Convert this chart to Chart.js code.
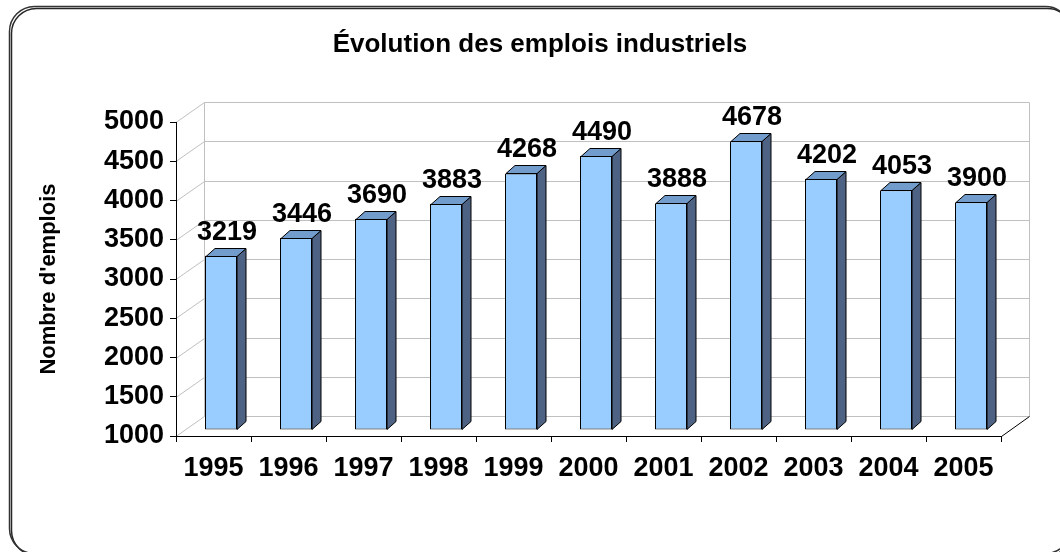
<!DOCTYPE html>
<html>
<head>
<meta charset="utf-8">
<script src="https://cdn.jsdelivr.net/npm/chart.js@4.4.0/dist/chart.umd.min.js"></script>
<style>
  html, body { margin: 0; padding: 0; background: #fff; overflow: hidden; }
  #wrap { width: 1060px; height: 552px; }
  #myChart { display: block; }
</style>
</head>
<body>
<div id="wrap"><canvas id="myChart" width="1060" height="552"></canvas></div>
<script>
// data
var years = ['1995', '1996', '1997', '1998', '1999', '2000', '2001', '2002', '2003', '2004', '2005'];
var emplois = [3219, 3446, 3690, 3883, 4268, 4490, 3888, 4678, 4202, 4053, 3900];
var yTicks = [1000, 1500, 2000, 2500, 3000, 3500, 4000, 4500, 5000];
var chartTitle = 'Évolution des emplois industriels';
var axisTitle = "Nombre d'emplois";

var fontFam = '"Liberation Sans", Arial, sans-serif';

// 3d look, pixel offsets
var wallDX = 27.5, wallDY = -20;
var barShiftX = 7.5, barShiftY = -6;
var barDX = 9, barDY = -8;

function px(v) { return Math.round(v) + 0.5; }

function line(ctx, x1, y1, x2, y2) {
  ctx.beginPath();
  ctx.moveTo(x1, y1);
  ctx.lineTo(x2, y2);
  ctx.stroke();
}

var fake3d = {
  id: 'fake3d',
  beforeDraw: function(chart) {
    var ctx = chart.ctx;
    var a = chart.chartArea;
    var ys = chart.scales.y;

    ctx.save();
    ctx.fillStyle = '#fff';
    ctx.fillRect(0, 0, chart.width, chart.height);

    // rounded frame, right and bottom sides run off the picture
    ctx.shadowColor = 'rgba(0,0,0,0.85)';
    ctx.shadowOffsetX = 2;
    ctx.shadowOffsetY = 2;
    ctx.beginPath();
    ctx.roundRect(9.5, 6.5, 1061, 547, 25);
    ctx.lineWidth = 1.5;
    ctx.strokeStyle = '#333';
    ctx.stroke();
    ctx.restore();

    // title
    ctx.save();
    ctx.fillStyle = '#000';
    ctx.font = 'bold 26px ' + fontFam;
    ctx.textAlign = 'center';
    ctx.textBaseline = 'middle';
    ctx.fillText(chartTitle, 540, 45);
    ctx.restore();

    // walls and grid
    ctx.save();
    ctx.lineWidth = 1;
    ctx.strokeStyle = '#c0c0c0';
    var backL = px(a.left + wallDX), backR = px(a.right + wallDX);
    yTicks.forEach(function(v) {
      var py = ys.getPixelForValue(v);
      line(ctx, a.left, px(py), backL, px(py + wallDY));
      line(ctx, backL, px(py + wallDY), backR, px(py + wallDY));
    });
    var yTop = px(ys.getPixelForValue(yTicks[yTicks.length - 1]) + wallDY);
    var yBot = px(ys.getPixelForValue(yTicks[0]) + wallDY);
    line(ctx, backL, yTop, backL, yBot);
    line(ctx, backR, yTop, backR, yBot);
    ctx.strokeStyle = '#000';
    line(ctx, px(a.right), px(a.bottom), backR, yBot);
    ctx.restore();
  },
  beforeDatasetsDraw: function(chart) {
    chart.ctx.save();
    chart.ctx.translate(barShiftX, barShiftY);
  },
  afterDatasetsDraw: function(chart) {
    var ctx = chart.ctx;
    var meta = chart.getDatasetMeta(0);
    ctx.lineWidth = 1;
    ctx.strokeStyle = '#000';
    ctx.lineJoin = 'miter';
    meta.data.forEach(function(bar, i) {
      var p = bar.getProps(['x', 'y', 'base', 'width'], true);
      var l = Math.round(p.x - p.width / 2) + 0.5;
      var r = Math.round(p.x + p.width / 2) - 0.5;
      var t = Math.round(p.y) + 0.5;
      var b = Math.round(p.base) - 0.5;
      // side
      ctx.beginPath();
      ctx.moveTo(r, t);
      ctx.lineTo(r + barDX, t + barDY);
      ctx.lineTo(r + barDX, b + barDY);
      ctx.lineTo(r, b);
      ctx.closePath();
      ctx.fillStyle = '#4e6384';
      ctx.fill();
      ctx.stroke();
      // top
      ctx.beginPath();
      ctx.moveTo(l, t);
      ctx.lineTo(l + barDX, t + barDY);
      ctx.lineTo(r + barDX, t + barDY);
      ctx.lineTo(r, t);
      ctx.closePath();
      ctx.fillStyle = '#729ccc';
      ctx.fill();
      ctx.stroke();
      // value
      ctx.fillStyle = '#000';
      ctx.font = 'bold 27px ' + fontFam;
      ctx.textAlign = 'center';
      ctx.textBaseline = 'alphabetic';
      ctx.fillText(String(emplois[i]), p.x + 6, p.y - 16);
    });
    ctx.restore();
  }
};

var ctx = document.getElementById('myChart').getContext('2d');
new Chart(ctx, {
  type: 'bar',
  data: {
    labels: years,
    datasets: [{
      label: axisTitle,
      data: emplois,
      base: yTicks[0],
      backgroundColor: '#99ccff',
      borderColor: '#000',
      borderWidth: 1,
      borderSkipped: false,
      barPercentage: 32 / 75,
      categoryPercentage: 1
    }]
  },
  options: {
    responsive: false,
    animation: false,
    devicePixelRatio: 1,
    layout: { padding: { top: 122, left: 30, right: 59, bottom: 0 } },
    plugins: {
      legend: { display: false },
      title: { display: false },
      tooltip: { enabled: false }
    },
    scales: {
      x: {
        afterFit: function(scale) { scale.height = 552 - 436; },
        grid: { drawOnChartArea: false, color: '#000', tickLength: 6, offset: true },
        border: { color: '#000', width: 1 },
        ticks: { color: '#000', padding: 10, font: { family: fontFam, size: 27, weight: 'bold' } }
      },
      y: {
        min: yTicks[0],
        max: yTicks[yTicks.length - 1],
        afterFit: function(scale) { scale.width = 176 - 30; },
        grid: { drawOnChartArea: false, color: '#000', tickLength: 6 },
        border: { color: '#000', width: 1 },
        ticks: {
          stepSize: yTicks[1] - yTicks[0], color: '#000', padding: 6,
          font: { family: fontFam, size: 27, weight: 'bold' },
          callback: function(v) { return String(v); }
        },
        title: { display: true, text: axisTitle, color: '#000', padding: { top: 6, bottom: 0 },
                 font: { family: fontFam, size: 22, weight: 'bold' } }
      }
    }
  },
  plugins: [fake3d]
});
</script>
</body>
</html>
